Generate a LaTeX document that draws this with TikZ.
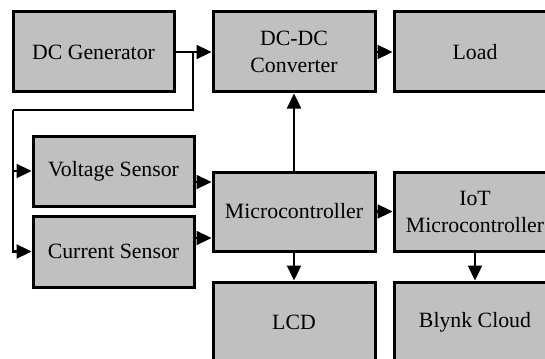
\documentclass[tikz,border=0pt]{standalone}
\usepackage{fontspec}
\setmainfont{Liberation Serif}
\usetikzlibrary{arrows.meta}
\definecolor{boxgray}{RGB}{192,192,192}
\tikzset{blk/.style={draw,line width=1.5pt,fill=boxgray,minimum width=81pt,
  minimum height=40pt,inner sep=0pt,align=center,
  font=\fontsize{10.9}{13.5}\selectfont}}
\begin{document}
\begin{tikzpicture}[x=0.5pt,y=-0.5pt,line width=1.15pt,
  >={Triangle[length=7.5pt,width=7pt]}]
\path [use as bounding box,clip] (0,0) rectangle (545,358);
% blocks
\node [blk,minimum width=80.5pt] (gen) at (93.5,52) {DC Generator};
\node [blk] (conv) at (294,52) {DC-DC\\Converter};
\node [blk] (load) at (475,52) {Load};
\node [blk,minimum width=80.5pt,minimum height=35pt] (volt) at (113.5,171) {Voltage Sensor};
\node [blk,minimum width=80.5pt,minimum height=35.5pt] (curr) at (113.5,251.5) {Current Sensor};
\node [blk,minimum height=39.5pt] (micro) at (294,211.5) {Microcontroller};
\node [blk,minimum height=39.5pt] (iot) at (475,211.5) {IoT\\Microcontroller};
\node [blk] (lcd) at (294,322) {LCD};
\node [blk] (blynk) at (475,322) {Blynk Cloud};
% power path
\draw [->] (gen) -- (conv);
\draw [->] (conv) -- (load);
\coordinate (tap) at (193,52);
\coordinate (rail) at (13,110);
\draw (tap) |- (rail);
\draw [->] (rail) |- (volt.west);
\draw [->] (rail) |- (curr.west);
% sensing and control
\coordinate (v1) at ([yshift=-5.5pt]volt.east);
\coordinate (c1) at ([yshift=6.75pt]curr.east);
\draw [->] (v1) -- (v1 -| micro.west);
\draw [->] (c1) -- (c1 -| micro.west);
\draw [->] (micro) -- (conv);
\draw [->] (micro) -- (iot);
\draw [->] (micro) -- (lcd);
\draw [->] (iot) -- (blynk);
\end{tikzpicture}
\end{document}
